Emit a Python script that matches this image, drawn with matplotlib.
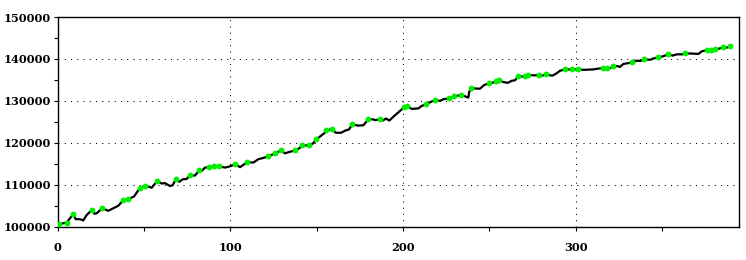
import matplotlib
matplotlib.use('Agg')
import matplotlib.pyplot as plt
from matplotlib.ticker import MultipleLocator

# line samples (x, value)
line_x = [1, 5.3, 9.1, 10.5, 13.0, 14.9, 16.9, 20.2, 21.3, 22.7, 25.9, 29.4, 32.3, 35.2,
          38.1, 41.0, 44.3, 46.8, 47.9, 50.8, 54.5, 57.8, 60.3, 62.2, 65.1, 66.7, 68.6,
          70.5, 72.5, 74.8, 76.9, 79.6, 82.1, 83.5, 85.4, 87.9, 90.6, 93.7, 97.0, 99.9,
          103.0, 105.7, 109.9, 113.4, 116.3, 119.2, 122.1, 126.1, 129.4, 131.7, 134.0,
          137.7, 140.0, 141.7, 145.8, 148.1, 149.7, 152.0, 154.5, 155.6, 159.1, 161.1,
          164.2, 166.5, 168.8, 170.7, 174.2, 177.1, 180.0, 182.9, 183.8, 186.9, 188.3,
          190.2, 192.1, 194.4, 198.3, 200.8, 202.5, 205.1, 208.9, 210.9, 213.5, 216.3,
          218.8, 221.5, 223.4, 226.9, 229.8, 233.8, 237.9, 238.4, 239.6, 244.6, 247.1,
          250.0, 251.8, 254.1, 255.8, 258.1, 260.7, 263.0, 264.9, 266.8, 269.1, 270.9,
          272.6, 275.5, 279.0, 280.4, 283.0, 286.5, 289.1, 291.0, 294.0, 298.1, 301.6,
          304.5, 310.2, 313.1, 316.0, 318.0, 319.5, 321.8, 324.1, 325.7, 327.6, 330.5,
          332.8, 335.4, 337.3, 339.8, 343.1, 345.0, 347.9, 350.4, 353.7, 356.2, 358.6,
          361.6, 363.5, 366.3, 371.1, 373.0, 375.9, 378.2, 380.9, 382.6, 385.5, 387.5,
          389.6]
line_y = [100600, 101000, 103000, 101800, 101800, 101500, 102800, 104100, 103100, 103200,
          104400, 103800, 104400, 105000, 106300, 106600, 107200, 108700, 109200, 109800,
          109300, 110900, 110300, 110400, 109700, 109900, 111400, 110700, 111300, 111400,
          112300, 112200, 113500, 113300, 114100, 114200, 114400, 114400, 114100, 114400,
          114900, 114200, 115400, 115300, 116100, 116400, 116800, 117500, 118200, 117500,
          117800, 118200, 118700, 119400, 119400, 119900, 120800, 121500, 122300, 123000,
          123200, 122400, 122400, 122900, 123200, 124400, 124100, 124200, 125600, 125600,
          125400, 125600, 125300, 125800, 125300, 126200, 127600, 128500, 128700, 128100,
          128200, 128800, 129200, 129800, 130200, 130000, 130400, 130600, 131100, 131400,
          130800, 132200, 133000, 132900, 133800, 134200, 134300, 134700, 134900, 134500,
          134300, 134800, 134900, 135900, 135800, 135900, 136200, 136100, 136100, 136000,
          136300, 136000, 136600, 137200, 137500, 137500, 137500, 137400, 137500, 137700,
          137800, 137800, 137700, 138200, 138300, 138100, 138800, 139000, 139200, 139600,
          139500, 139900, 139800, 140100, 140400, 140600, 141100, 140800, 141100, 141100,
          141300, 141300, 141200, 141800, 142100, 142100, 142300, 142400, 142800, 142700,
          143000]

# green marked points
mark_x = [1, 5.3, 9.1, 20.2, 25.9, 38.1, 41.0, 47.9, 50.8, 57.8, 68.6, 76.9, 82.1, 87.9,
          90.6, 93.7, 103.0, 109.9, 122.1, 126.1, 129.4, 137.7, 141.7, 145.8, 149.7,
          155.6, 159.1, 170.7, 180.0, 186.9, 200.8, 202.5, 213.5, 218.8, 226.9, 229.8,
          233.8, 239.6, 250.0, 254.1, 255.8, 266.8, 270.9, 272.6, 279.0, 283.0, 294.0,
          298.1, 301.6, 316.0, 318.0, 321.8, 332.8, 339.8, 347.9, 353.7, 363.5, 375.9,
          378.2, 380.9, 385.5, 389.6]
mark_y = [100600, 101000, 103000, 104100, 104400, 106300, 106600, 109200, 109800, 110900,
          111400, 112300, 113500, 114200, 114400, 114400, 114900, 115400, 116800, 117500,
          118200, 118200, 119400, 119400, 120800, 123000, 123200, 124400, 125600, 125600,
          128500, 128700, 129200, 130200, 130600, 131100, 131400, 133000, 134200, 134700,
          134900, 135900, 135900, 136200, 136100, 136300, 137500, 137500, 137500, 137800,
          137800, 138200, 139200, 139900, 140400, 141100, 141300, 142100, 142100, 142300,
          142800, 143000]

fig = plt.figure(figsize=(7.46, 2.60), dpi=100)
ax = fig.add_axes([0.0771, 0.128, 0.9135, 0.8066])

ax.plot(line_x, line_y, color='black', lw=1.6, zorder=3)
ax.plot(mark_x, mark_y, 'o', color='#00ee00', markersize=4.2, markeredgewidth=0, zorder=4)

ax.set_xlim(0, 394.6)
ax.set_ylim(100000, 150000)
ax.xaxis.set_major_locator(MultipleLocator(100))
ax.xaxis.set_minor_locator(MultipleLocator(50))
ax.yaxis.set_major_locator(MultipleLocator(10000))
ax.yaxis.set_minor_locator(MultipleLocator(5000))

ax.grid(True, which='major', color='black', lw=0.75, linestyle=(0, (1, 5)))
ax.tick_params(which='both', direction='out', length=3, width=0.8, color='black')
ax.tick_params(axis='x', pad=8)
ax.tick_params(axis='y', pad=1.5)
for lab in ax.get_xticklabels() + ax.get_yticklabels():
    lab.set_fontfamily('DejaVu Serif')
    lab.set_fontweight('bold')
    lab.set_fontsize(8.2)
for s in ax.spines.values():
    s.set_linewidth(1.0)

plt.savefig('out.png', dpi=100)
